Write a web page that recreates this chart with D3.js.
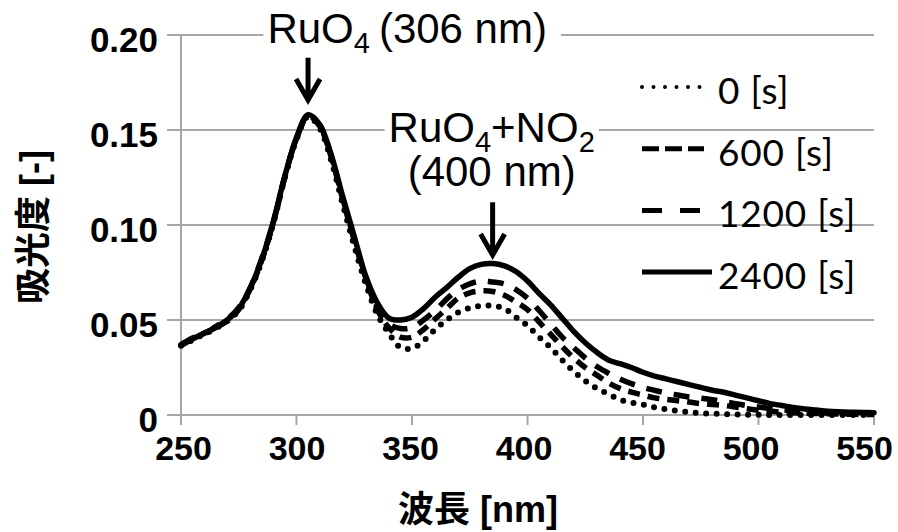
<!DOCTYPE html>
<html>
<head>
<meta charset="utf-8">
<script src="https://cdn.jsdelivr.net/npm/d3@7"></script>
<style>
  body { margin: 0; background: #fff; }
  svg { display: block; }
</style>
</head>
<body>
<svg id="chart" width="898" height="532"></svg>
<script>
// wavelength grid [nm]
var wavelengths = [250,255,260,265,270,275,280,285,290,295,300,305,310,315,320,325,330,335,340,345,350,355,360,365,370,375,380,385,390,395,400,405,410,415,420,425,430,435,440,445,450,455,460,465,470,475,480,485,490,495,500,505,510,515,520,525,530,535,540,545,550];

// absorbance
var abs0 = [0.0365,0.0395,0.0425,0.0455,0.0495,0.055,0.066,0.081,0.101,0.125,0.145,0.157,0.151,0.134,0.111,0.089,0.069,0.053,0.043,0.0355,0.035,0.039,0.045,0.050,0.054,0.0563,0.0575,0.0575,0.056,0.0515,0.047,0.041,0.0355,0.029,0.023,0.018,0.014,0.011,0.008,0.0065,0.0055,0.004,0.003,0.0022,0.0015,0.001,0.0007,0.0005,0.0003,0.0002,0.0001,0,0,0,0,0,0,0,0,0,0];
var abs600 = [0.0365,0.040,0.043,0.046,0.0495,0.0555,0.0665,0.0815,0.1015,0.1255,0.1455,0.1575,0.152,0.136,0.1135,0.092,0.072,0.0555,0.046,0.041,0.041,0.045,0.0505,0.056,0.0615,0.0643,0.0653,0.065,0.063,0.0595,0.0555,0.049,0.0425,0.036,0.030,0.025,0.021,0.017,0.014,0.012,0.0105,0.009,0.0082,0.0075,0.0068,0.006,0.0055,0.005,0.0042,0.0033,0.0025,0.002,0.0015,0.0012,0.001,0.0008,0.0006,0.0005,0.0004,0.0003,0.0003];
var abs1200 = [0.037,0.0405,0.0425,0.0465,0.0505,0.0565,0.067,0.0825,0.1015,0.1255,0.1455,0.157,0.1525,0.1365,0.114,0.0925,0.0725,0.057,0.048,0.0455,0.046,0.050,0.055,0.061,0.066,0.069,0.0705,0.070,0.069,0.066,0.0615,0.055,0.048,0.041,0.0355,0.030,0.0255,0.022,0.019,0.0165,0.0145,0.013,0.0115,0.0105,0.0095,0.0088,0.008,0.007,0.006,0.005,0.0042,0.0035,0.0028,0.0022,0.0017,0.0013,0.001,0.0008,0.0006,0.0005,0.0004];
var abs2400 = [0.037,0.040,0.043,0.046,0.050,0.056,0.067,0.082,0.102,0.126,0.146,0.158,0.153,0.137,0.115,0.094,0.073,0.059,0.051,0.050,0.0515,0.056,0.062,0.067,0.0725,0.077,0.0793,0.0797,0.0785,0.0755,0.0705,0.064,0.058,0.051,0.044,0.038,0.033,0.029,0.027,0.025,0.0225,0.0205,0.019,0.0175,0.016,0.0145,0.013,0.012,0.0105,0.009,0.0075,0.006,0.005,0.004,0.0032,0.0026,0.002,0.0017,0.0015,0.0013,0.0012];

var seriesNames = ["0 [s]", "600 [s]", "1200 [s]", "2400 [s]"];
var yTicks = [0, 0.05, 0.10, 0.15, 0.20];
var xTicks = [250, 300, 350, 400, 450, 500, 550];

var svg = d3.select("#chart");
svg.append("rect").attr("width", 898).attr("height", 532).attr("fill", "#fff");

var x = d3.scaleLinear().domain([250, 550]).range([181, 874]);
var y = d3.scaleLinear().domain([0, 0.2]).range([415, 35]);

var grey = "#a6a6a6";
var bold = "'Liberation Sans', Arial, sans-serif";
var cjk = "'Liberation Sans', 'Noto Sans CJK JP', sans-serif";

// gridlines
svg.append("g").selectAll("line")
  .data(yTicks)
  .enter().append("line")
    .attr("x1", x(250) - 14).attr("x2", x(550))
    .attr("y1", function(d) { return y(d); })
    .attr("y2", function(d) { return y(d); })
    .attr("stroke", grey).attr("stroke-width", 2);

// y axis line
svg.append("line")
  .attr("x1", x(250)).attr("x2", x(250))
  .attr("y1", y(0.2)).attr("y2", y(0))
  .attr("stroke", grey).attr("stroke-width", 2);

// x ticks (down from axis)
svg.append("g").selectAll("line")
  .data(xTicks)
  .enter().append("line")
    .attr("x1", function(d) { return x(d); })
    .attr("x2", function(d) { return x(d); })
    .attr("y1", y(0)).attr("y2", y(0) + 10)
    .attr("stroke", grey).attr("stroke-width", 2);

// y tick labels
svg.append("g").selectAll("text")
  .data(yTicks)
  .enter().append("text")
    .attr("x", x(250) - 23)
    .attr("y", function(d) { return y(d) + 17; })
    .attr("text-anchor", "end")
    .attr("font-family", bold).attr("font-weight", "bold").attr("font-size", 35)
    .text(function(d) { return d === 0 ? "0" : d.toFixed(2); });

// x tick labels (slightly drawn in towards the left, as in the original)
svg.append("g").selectAll("text")
  .data(xTicks)
  .enter().append("text")
    .attr("x", function(d, i) { return x(d) + 2.5 - i * 2; })
    .attr("y", y(0) + 45)
    .attr("text-anchor", "middle")
    .attr("font-family", bold).attr("font-weight", "bold").attr("font-size", 34)
    .text(function(d) { return d; });

// axis titles
svg.append("text")
  .attr("x", 478).attr("y", 522)
  .attr("text-anchor", "middle")
  .attr("font-family", cjk).attr("font-weight", "bold").attr("font-size", 36)
  .text("波長 [nm]");

svg.append("text")
  .attr("transform", "translate(46,227) rotate(-90)")
  .attr("text-anchor", "middle")
  .attr("font-family", cjk).attr("font-weight", "bold").attr("font-size", 36)
  .text("吸光度 [-]");

// curves
var styles = [
  {dash: "0 10.5", cap: "round", w: 6},
  {dash: "12 8", cap: "butt", w: 5.5},
  {dash: "16 12", cap: "butt", w: 5.5},
  {dash: null, cap: "round", w: 5.5}
];
var allSeries = [abs0, abs600, abs1200, abs2400];

var line = d3.line()
  .x(function(d, i) { return x(wavelengths[i]); })
  .y(function(d) { return y(d); })
  .curve(d3.curveCatmullRom);

var order = [3, 2, 1, 0];
order.forEach(function(k) {
  svg.append("path")
    .datum(allSeries[k])
    .attr("d", line)
    .attr("fill", "none")
    .attr("stroke", "#000")
    .attr("stroke-width", styles[k].w)
    .attr("stroke-linecap", styles[k].cap)
    .attr("stroke-linejoin", "round")
    .attr("stroke-dasharray", styles[k].dash);
});

// annotations with a white box that breaks the gridlines
function label(lines, xPos, anchor, padR) {
  var g = svg.append("g");
  var t = g.append("text")
    .attr("font-family", bold).attr("font-size", 42)
    .attr("text-anchor", anchor);
  lines.forEach(function(l) {
    var row = t.append("tspan").attr("x", x(xPos)).attr("y", y(l.v));
    l.parts.forEach(function(p) {
      var s = row.append("tspan").text(p.t);
      if (p.sub) s.attr("font-size", 29).attr("dy", 10);
      if (p.up) s.attr("dy", -10).attr("dx", p.dx || 0);
    });
  });
  var bb = t.node().getBBox();
  g.insert("rect", "text")
    .attr("x", bb.x - 4).attr("y", bb.y + 4)
    .attr("width", bb.width + 8 + padR).attr("height", bb.height - 8)
    .attr("fill", "#fff");
}

label([{v: 0.1958, parts: [{t: "RuO"}, {t: "4", sub: true}, {t: "(306 nm)", up: true, dx: 9}]}], 287.4, "start", 10);
label([
  {v: 0.1437, parts: [{t: "RuO"}, {t: "4", sub: true}, {t: "+NO", up: true}, {t: "2", sub: true}]},
  {v: 0.1205, parts: [{t: "(400 nm)"}]}
], 384.5, "middle", 0);

function arrow(wl, vTop, vTip) {
  var ax = x(wl), y0 = y(vTop), y1 = y(vTip);
  svg.append("path")
    .attr("d", "M" + ax + "," + y0 + "V" + (y1 - 3) +
               "M" + (ax - 12) + "," + (y1 - 21) + "L" + ax + "," + y1 + "L" + (ax + 12) + "," + (y1 - 21))
    .attr("fill", "none").attr("stroke", "#000")
    .attr("stroke-width", 5).attr("stroke-linejoin", "miter");
}
arrow(305, 0.188, 0.1658);
arrow(384.9, 0.112, 0.0842);

// legend
var legend = svg.append("g")
  .selectAll("g")
  .data(seriesNames)
  .enter().append("g")
    .attr("transform", function(d, i) { return "translate(642," + (87 + i * 61.7) + ")"; });

legend.append("line")
  .attr("x1", 0).attr("x2", function(d, i) { return i === 3 ? 70 : 62; })
  .attr("stroke", "#000")
  .attr("stroke-width", function(d, i) { return i === 0 ? 4 : 5; })
  .attr("stroke-linecap", function(d, i) { return i === 0 ? "round" : "butt"; })
  .attr("stroke-dasharray", function(d, i) { return i === 0 ? "0 11.5" : (i === 1 ? "17 6" : (i === 2 ? "20 18" : null)); });

legend.append("text")
  .attr("x", 76).attr("y", 17)
  .attr("font-family", "Lato, 'Open Sans', sans-serif").attr("font-size", 37)
  .attr("letter-spacing", 0.8)
  .text(function(d) { return d; });
</script>
</body>
</html>
